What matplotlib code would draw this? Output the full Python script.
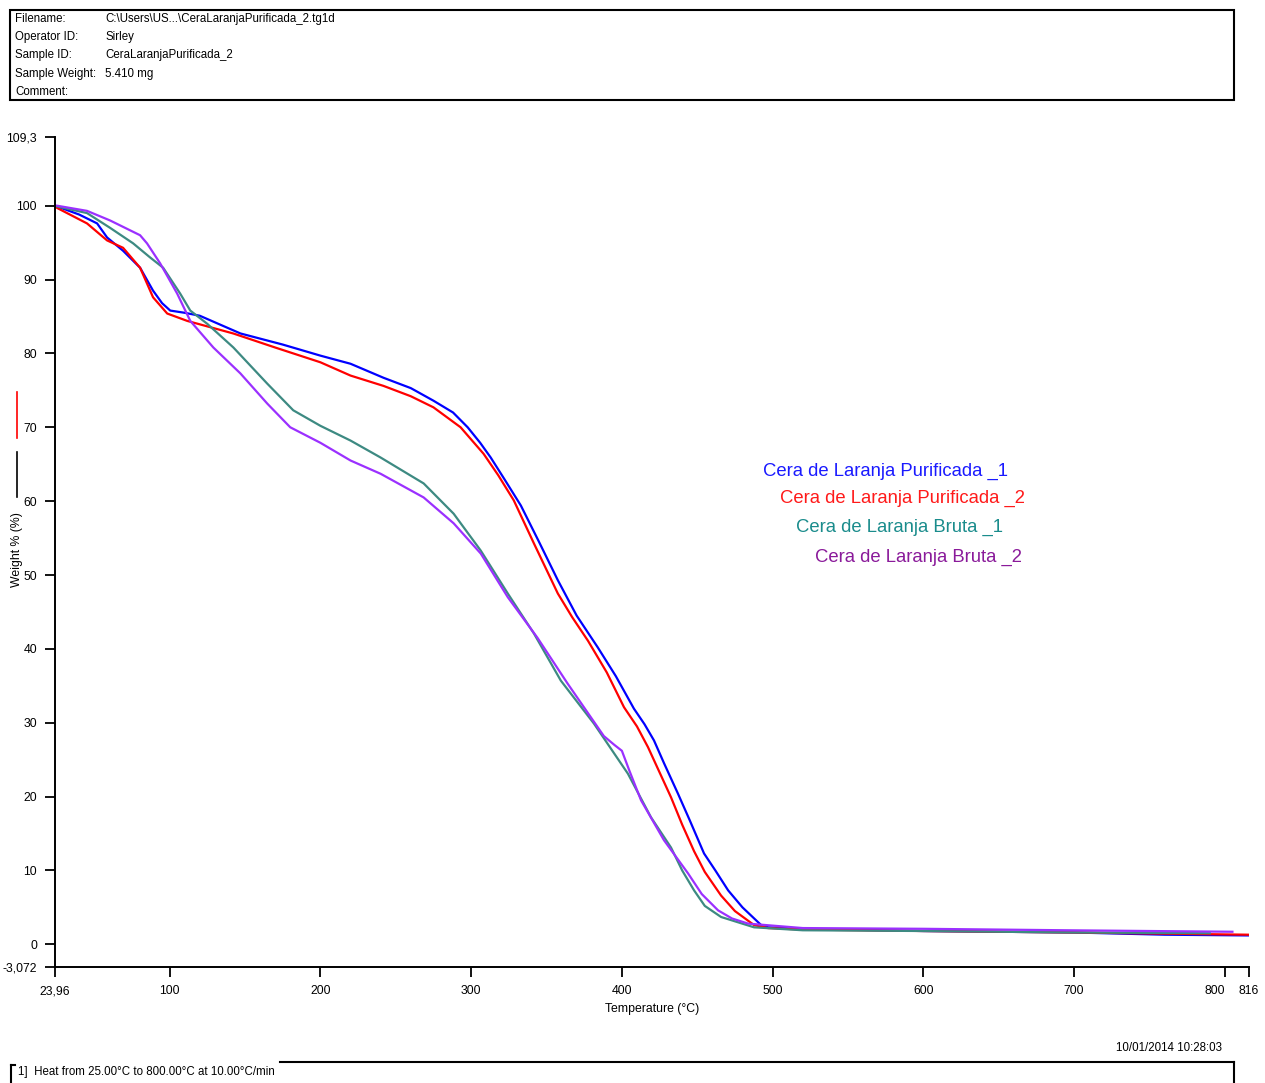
import numpy as np
import matplotlib.pyplot as plt
from matplotlib.lines import Line2D
from matplotlib.patches import Rectangle

W, H = 1265, 1083
FONT = ['Liberation Sans', 'DejaVu Sans']
plt.rcParams['font.family'] = FONT

# temperatura (C) / massa (%)
t_pur1 = [23.96, 25.3, 40, 51.9, 58.5, 69.1, 80.4, 89, 95, 100.4, 110, 120, 147, 175, 200, 220, 241.9,
          260, 275, 288, 297.7, 306, 313, 322, 333, 345, 357.5, 370, 384, 396, 408, 415, 421.3, 428,
          437.2, 445, 454.5, 462, 470.5, 480, 492.4, 497, 520, 600, 700, 760, 816]
w_pur1 = [100, 99.9, 98.8, 97.6, 95.7, 93.9, 91.6, 88.5, 86.8, 85.8, 85.5, 85.1, 82.7, 81.2, 79.7, 78.6,
          76.7, 75.3, 73.6, 72, 70, 67.9, 65.9, 63, 59.4, 54.5, 49.3, 44.5, 40.2, 36.3, 31.9, 29.8,
          27.6, 24.5, 20.4, 16.8, 12.3, 10, 7.3, 5, 2.6, 2.3, 2.1, 1.8, 1.6, 1.3, 1.2]

t_pur2 = [23.96, 25.3, 45.2, 58.5, 69.1, 80.4, 89, 98.4, 111.7, 142.2, 170, 200, 220, 241.9, 260, 275,
          293, 308.3, 318, 328.3, 341.6, 357.5, 367, 377.5, 390, 401.4, 410, 417.3, 432.6, 440, 447.9,
          455, 465.8, 475, 487.7, 497, 520, 600, 700, 816]
w_pur2 = [100, 99.7, 97.6, 95.3, 94.3, 91.6, 87.6, 85.4, 84.4, 82.7, 80.8, 78.8, 77, 75.6, 74.2, 72.7,
          70, 66.4, 63.5, 60.1, 54.3, 47.5, 44.3, 41.1, 36.8, 32.1, 29.5, 26.7, 19.9, 16.2, 12.6,
          9.8, 6.6, 4.5, 2.6, 2.2, 2.0, 1.8, 1.6, 1.3]

t_bru1 = [23.96, 25.3, 45.2, 60.5, 75.8, 87, 95.7, 107, 113.7, 125, 142.3, 164.8, 182, 200, 220,
          240, 268.5, 288.4, 306.4, 324.3, 341.6, 359.5, 381.4, 404, 419.3, 432.6, 440, 447.9, 455,
          465.8, 487.7, 520, 600, 700, 790]
w_bru1 = [100, 99.9, 99, 97, 94.9, 93, 91.6, 88.1, 85.8, 84, 80.8, 75.9, 72.3, 70.2, 68.2,
          65.9, 62.4, 58.3, 53.3, 47.5, 42.1, 35.7, 29.9, 23.1, 17.2, 13.1, 10, 7.3, 5.2,
          3.7, 2.3, 1.9, 1.8, 1.6, 1.5]

t_bru2 = [23.96, 25.3, 45.2, 60.5, 80.4, 85, 93.7, 105, 113.7, 129, 146.9, 164.8, 180, 200, 220,
          240, 268.5, 288.4, 306.4, 324.3, 344, 364, 388, 395, 400, 405, 412.7, 427.9, 443.9, 453,
          463.8, 473, 483.8, 520, 600, 695, 805]
w_bru2 = [100, 100, 99.3, 98, 96, 94.9, 92.2, 88.1, 84.4, 80.8, 77.3, 73.2, 70, 67.9, 65.5,
          63.7, 60.5, 57, 52.9, 47, 41.5, 35.3, 28.2, 27.0, 26.2, 23.5, 19.5, 14.1, 9.6, 6.8,
          4.6, 3.5, 2.8, 2.2, 2.1, 1.9, 1.7]

names = ['Cera de Laranja Purificada _1', 'Cera de Laranja Purificada _2',
         'Cera de Laranja Bruta _1', 'Cera de Laranja Bruta _2']
line_colors = ['#0000ff', '#ff0000', '#3d8a82', '#9b30ff']
text_colors = ['#1a1aff', '#ff1a1a', '#1a8c8c', '#8a1a9a']

yticks = [0, 10, 20, 30, 40, 50, 60, 70, 80, 90, 100]
xticks = [100, 200, 300, 400, 500, 600, 700, 800]
y_min, y_max = -3.072, 109.3
x_min, x_max = 23.96, 816


def fx(px):
    return px / W


def fy(py):
    return 1 - py / H


fig = plt.figure(figsize=(W / 100, H / 100), dpi=100)

# cabecalho
fig.patches.append(Rectangle((fx(10), fy(100)), fx(1224), 90 / H, transform=fig.transFigure,
                             fill=False, edgecolor='black', linewidth=1.5))
header = [('Filename:', 'C:\\Users\\US...\\CeraLaranjaPurificada_2.tg1d'),
          ('Operator ID:', 'Sirley'),
          ('Sample ID:', 'CeraLaranjaPurificada_2'),
          ('Sample Weight:', '5.410 mg'),
          ('Comment:', '')]
for k, (lab, val) in enumerate(header):
    y = 19 + k * 18.2
    fig.text(fx(15), fy(y), lab, fontsize=8.3, va='center', ha='left')
    fig.text(fx(105), fy(y), val, fontsize=8.3, va='center', ha='left')

ax = fig.add_axes([fx(55), fy(967), fx(1249 - 55), (967 - 137) / H])
for t, w, c in zip([t_pur1, t_pur2, t_bru1, t_bru2], [w_pur1, w_pur2, w_bru1, w_bru2], line_colors):
    ax.plot(t, w, color=c, linewidth=1.6)

ax.set_xlim(x_min, x_max)
ax.set_ylim(y_min, y_max)
ax.spines['top'].set_visible(False)
ax.spines['right'].set_visible(False)
ax.spines['left'].set_linewidth(1.4)
ax.spines['bottom'].set_linewidth(1.4)
ax.set_yticks([y_min] + yticks + [y_max])
ax.set_yticklabels(['-3,072'] + [str(v) for v in yticks] + ['109,3'])
ax.set_xticks([x_min] + xticks + [x_max])
ax.set_xticklabels(['23,96'] + [str(v) for v in xticks] + ['816'])
ax.tick_params(direction='out', length=7, width=1.3, labelsize=8.8, pad=6)
ax.get_xticklabels()[-2].set_horizontalalignment('right')
ax.get_xticklabels()[-2].set_x(800 + 7)

ax.set_xlabel('Temperature (°C)', fontsize=8.8, labelpad=4)

# rotulo do eixo y com as marcas de linha
fig.text(fx(17), fy(550), 'Weight % (%)', rotation=90, fontsize=8.8, ha='center', va='center')
fig.add_artist(Line2D([fx(17), fx(17)], [fy(392), fy(438)], color='red', linewidth=1.2))
fig.add_artist(Line2D([fx(17), fx(17)], [fy(452), fy(497)], color='black', linewidth=1.2))

# legenda em texto
leg_x = [763, 780, 796, 815]
leg_y = [471, 498, 527, 557]
for name, c, lx, ly in zip(names, text_colors, leg_x, leg_y):
    fig.text(fx(lx), fy(ly), name, color=c, fontsize=13.3, ha='left', va='center')

fig.text(fx(1222), fy(1048), '10/01/2014 10:28:03', fontsize=8.3, ha='right', va='center')

# caixa inferior
fig.add_artist(Line2D([fx(280), fx(1234)], [fy(1062), fy(1062)], color='black', linewidth=1.5))
fig.add_artist(Line2D([fx(1234), fx(1234)], [fy(1062), fy(1083)], color='black', linewidth=1.5))
fig.add_artist(Line2D([fx(11), fx(11)], [fy(1065), fy(1083)], color='black', linewidth=1.5))
fig.add_artist(Line2D([fx(11), fx(15)], [fy(1065), fy(1065)], color='black', linewidth=1.5))
fig.text(fx(18), fy(1072), '1]  Heat from 25.00°C to 800.00°C at 10.00°C/min', fontsize=8.3,
         ha='left', va='center')

fig.savefig('out.png', dpi=100, facecolor='white')
